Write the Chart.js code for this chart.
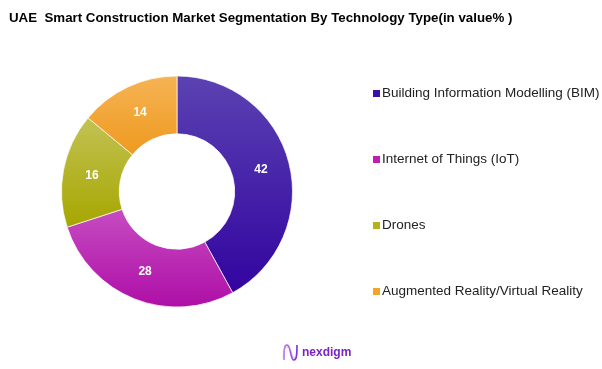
<!DOCTYPE html>
<html>
<head>
<meta charset="utf-8">
<script src="https://cdn.jsdelivr.net/npm/chart.js"></script>
<style>
  html, body { margin: 0; padding: 0; background: #fff; }
  #wrap { width: 602px; height: 369px; }
</style>
</head>
<body>
<div id="wrap"><canvas id="donut" width="602" height="369"></canvas></div>
<script>
// chart data
const chartTitle = 'UAE  Smart Construction Market Segmentation By Technology Type(in value% )';
const categories = [
    'Building Information Modelling (BIM)',
    'Internet of Things (IoT)',
    'Drones',
    'Augmented Reality/Virtual Reality'
];
const shares = [42, 28, 16, 14];

// colours: lighter at the top of each slice, deeper at the bottom
const topColors = ['#5b42b2', '#c64cc2', '#c2c254', '#f6b355'];
const bottomColors = ['#3204a0', '#ae0ea6', '#a6a600', '#ee9a1e'];
const legendColors = ['#3a10a6', '#c01cb8', '#b2b418', '#f6a52c'];

const CUTOUT = 0.5;

// vertical gradient that spans just the slice itself
function sliceGradient(context) {
    const i = context.dataIndex;
    const chart = context.chart;
    const area = chart.chartArea;
    if (i === undefined || !area) return legendColors[0];

    const cx = (area.left + area.right) / 2;
    const cy = (area.top + area.bottom) / 2;
    const R = Math.min(area.right - area.left, area.bottom - area.top) / 2;
    const r = R * CUTOUT;
    const total = shares.reduce((a, b) => a + b, 0);
    let before = 0;
    for (let k = 0; k < i; k++) before += shares[k];
    const a0 = -Math.PI / 2 + 2 * Math.PI * before / total;
    const a1 = a0 + 2 * Math.PI * shares[i] / total;

    let minY = Infinity, maxY = -Infinity;
    for (let s = 0; s <= 40; s++) {
        const a = a0 + (a1 - a0) * s / 40;
        [R, r].forEach(rad => {
            const y = cy + rad * Math.sin(a);
            minY = Math.min(minY, y);
            maxY = Math.max(maxY, y);
        });
    }
    const g = chart.ctx.createLinearGradient(0, minY, 0, maxY);
    g.addColorStop(0, topColors[i]);
    g.addColorStop(1, bottomColors[i]);
    return g;
}

// title, legend, value labels and footer logo
const decorations = {
    id: 'decorations',
    afterDraw(chart) {
        const ctx = chart.ctx;
        const area = chart.chartArea;
        ctx.save();

        // title
        ctx.fillStyle = '#000';
        ctx.font = 'bold 13.3px Arial, "Liberation Sans", sans-serif';
        ctx.textAlign = 'left';
        ctx.textBaseline = 'middle';
        ctx.fillText(chartTitle, 9, 18);

        // value labels
        const meta = chart.getDatasetMeta(0);
        ctx.fillStyle = '#fff';
        ctx.font = 'bold 12px Arial, "Liberation Sans", sans-serif';
        ctx.textAlign = 'center';
        meta.data.forEach((arc, i) => {
            const p = arc.tooltipPosition();
            ctx.fillText(String(chart.data.datasets[0].data[i]), p.x, p.y);
        });

        // legend
        const midY = (area.top + area.bottom) / 2;
        const step = 66;
        ctx.font = '13.5px Arial, "Liberation Sans", sans-serif';
        ctx.textAlign = 'left';
        chart.data.labels.forEach((label, i) => {
            const y = midY + (i - (chart.data.labels.length - 1) / 2) * step;
            ctx.fillStyle = legendColors[i];
            ctx.fillRect(373, Math.round(y) - 3, 7, 7);
            ctx.fillStyle = '#222';
            ctx.fillText(label, 382, y + 0.5);
        });

        // nexdigm logo
        const lg = ctx.createLinearGradient(283, 0, 298, 0);
        lg.addColorStop(0, '#c07be8');
        lg.addColorStop(1, '#7a2ad0');
        ctx.strokeStyle = lg;
        ctx.lineWidth = 1.6;
        ctx.beginPath();
        ctx.moveTo(284, 360);
        ctx.bezierCurveTo(284, 350, 284, 345, 287, 345);
        ctx.bezierCurveTo(291, 345, 290, 360, 294, 360);
        ctx.bezierCurveTo(297, 360, 297, 352, 297, 345);
        ctx.stroke();
        ctx.strokeStyle = 'rgba(200,130,235,0.6)';
        ctx.lineWidth = 1;
        ctx.beginPath();
        ctx.moveTo(283, 358);
        ctx.bezierCurveTo(284, 349, 285, 347, 288, 347);
        ctx.bezierCurveTo(292, 348, 291, 358, 295, 358);
        ctx.stroke();

        ctx.fillStyle = '#7b22c9';
        ctx.font = 'bold 12px Arial, "Liberation Sans", sans-serif';
        ctx.textBaseline = 'middle';
        ctx.fillText('nexdigm', 302, 353);

        ctx.restore();
    }
};

const ctx = document.getElementById('donut').getContext('2d');
new Chart(ctx, {
    type: 'doughnut',
    data: {
        labels: categories,
        datasets: [{
            data: shares,
            backgroundColor: sliceGradient,
            borderColor: 'rgba(255,255,255,0.7)',
            borderWidth: 1
        }]
    },
    options: {
        responsive: false,
        animation: false,
        cutout: '50%',
        layout: {
            padding: { top: 75, bottom: 61, left: 61, right: 309 }
        },
        plugins: {
            legend: { display: false },
            title: { display: false },
            tooltip: { enabled: false }
        }
    },
    plugins: [decorations]
});
</script>
</body>
</html>
